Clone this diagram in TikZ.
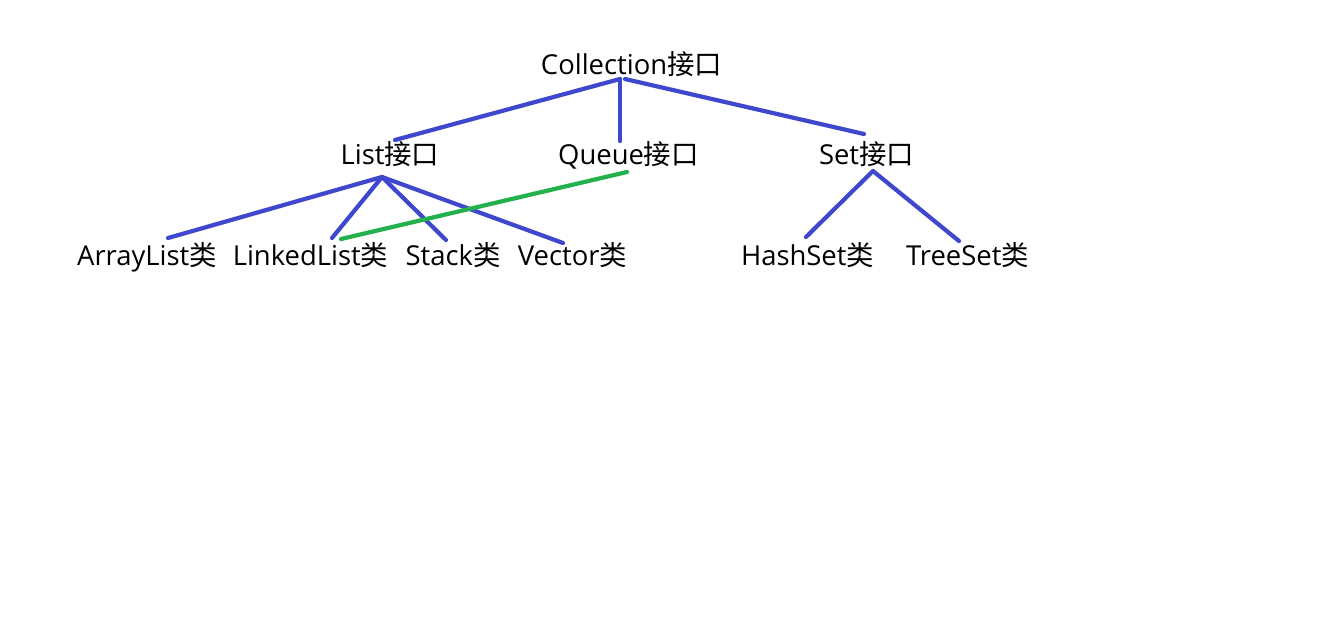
\documentclass[tikz,border=0pt]{standalone}
\usepackage{fontspec}
\setmainfont{Open Sans}
\newfontfamily\cjk{Noto Sans CJK SC}
\definecolor{linkblue}{RGB}{63,72,204}
\definecolor{linkgreen}{RGB}{34,177,76}
\begin{document}
\begin{tikzpicture}[x=0.01cm,y=-0.01cm,
  lbl/.style={inner sep=0pt,anchor=center,text height=0.78em,text depth=0.22em,font=\fontsize{7.8pt}{9.5pt}\selectfont},
  edge/.style={draw=linkblue,line width=0.042cm,line cap=round},
  gedge/.style={draw=linkgreen,line width=0.042cm,line cap=round}]
\useasboundingbox[fill=white] (0,0) rectangle (1341,630);
\node[lbl] (coll) at (631.5,65) {Collection{\cjk 接口}};
\node[lbl] (list) at (390,155) {List{\cjk 接口}};
\node[lbl] (queue) at (628.5,155) {Queue{\cjk 接口}};
\node[lbl] (set) at (866.5,155) {Set{\cjk 接口}};
\node[lbl] (arr) at (147,256) {ArrayList{\cjk 类}};
\node[lbl] (lnk) at (310.5,256) {LinkedList{\cjk 类}};
\node[lbl] (stk) at (453,256) {Stack{\cjk 类}};
\node[lbl] (vec) at (572.5,256) {Vector{\cjk 类}};
\node[lbl] (hash) at (807.5,256) {HashSet{\cjk 类}};
\node[lbl] (tree) at (967.5,256) {TreeSet{\cjk 类}};
% Collection children
\draw[edge] ([shift={(-11.5,14)}]coll.center) -- ([shift={(5,-15)}]list.center);
\draw[edge] ([shift={(-11.5,14)}]coll.center) -- ([shift={(-8.5,-14)}]queue.center);
\draw[edge] ([shift={(-6.5,14)}]coll.center) -- ([shift={(-2.5,-21)}]set.center);
% List children
\draw[edge] ([shift={(-8,22)}]list.center) -- ([shift={(21,-18)}]arr.center);
\draw[edge] ([shift={(-8,22)}]list.center) -- ([shift={(21.5,-18)}]lnk.center);
\draw[edge] ([shift={(-8,22)}]list.center) -- ([shift={(-7,-16)}]stk.center);
\draw[edge] ([shift={(-8,22)}]list.center) -- ([shift={(-9.5,-13)}]vec.center);
% Set children
\draw[edge] ([shift={(6.5,16)}]set.center) -- ([shift={(-1.5,-19)}]hash.center);
\draw[edge] ([shift={(6.5,16)}]set.center) -- ([shift={(-8.5,-15)}]tree.center);
% Queue - LinkedList
\draw[gedge] ([shift={(30.5,-17)}]lnk.center) -- ([shift={(-1.5,17)}]queue.center);
\end{tikzpicture}
\end{document}
